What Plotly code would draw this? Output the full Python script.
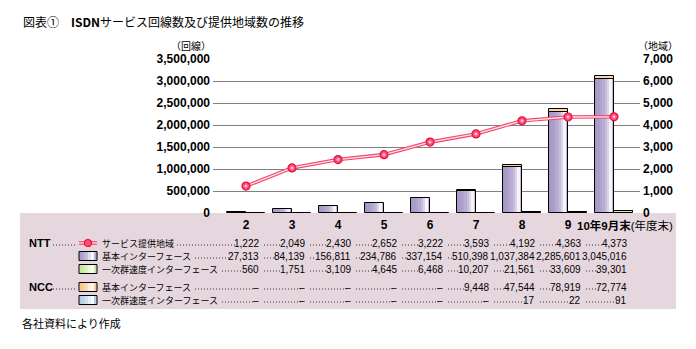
import plotly.graph_objects as go

# ---------------- data ----------------
categories = ["2", "3", "4", "5", "6", "7", "8", "9", "10年9月末"]
ntt_area = [1222, 2049, 2430, 2652, 3222, 3593, 4192, 4363, 4373]
ntt_basic = [27313, 84139, 156811, 234786, 337154, 510398, 1037384, 2285601, 3045016]
ntt_primary = [560, 1751, 3109, 4645, 6468, 10207, 21561, 33609, 39301]
ncc_basic = [None, None, None, None, None, 9448, 47544, 78919, 72774]
ncc_primary = [None, None, None, None, None, None, 17, 22, 91]

left_ticks = [0, 500000, 1000000, 1500000, 2000000, 2500000, 3000000, 3500000]
right_ticks = [0, 1000, 2000, 3000, 4000, 5000, 6000, 7000]

# ---------------- layout geometry ----------------
W, H = 696, 349
L, R, T, B = 213, 640, 59, 213          # plot area in px
PW, PH = R - L, B - T
PINK = "#e6d7df"
C0, STEP = 246, 46                      # first category centre / spacing in px


def X(px):
    return (px - L) / PW


def Y(py):
    return (B - py) / PH


xs = list(range(len(categories)))
BW = 0.413
JP = "Noto Sans CJK JP"
NUM = "Liberation Sans, Arial, " + JP

fig = go.Figure()

# main bar gradient (NTT basic)
purple_strips = ['#a598c7', '#aa9dca', '#b0a4ce', '#b8add4', '#c6bddc', '#dbd5ea', '#f6f4fa', '#c4bad9']
n = len(purple_strips)
for k, c in enumerate(purple_strips):
    fig.add_trace(go.Bar(x=xs, y=ntt_basic, base=0, offset=-BW + k * BW / n, width=BW / n,
                         marker=dict(color=c, line=dict(width=0)), showlegend=False,
                         hoverinfo="skip"))
fig.add_trace(go.Bar(x=xs, y=ntt_basic, base=0, offset=-BW, width=BW,
                     marker=dict(color="rgba(0,0,0,0)", line=dict(color="black", width=1)),
                     showlegend=False, name="NTT 基本インターフェース"))
fig.add_trace(go.Bar(x=xs, y=ncc_basic, base=ntt_basic, offset=-BW, width=BW,
                     marker=dict(color="#fad7a6", line=dict(color="black", width=1)),
                     showlegend=False, name="NCC 基本インターフェース"))
fig.add_trace(go.Bar(x=xs, y=ntt_primary, base=0, offset=0, width=BW,
                     marker=dict(color="#d6ecb8", line=dict(color="black", width=1)),
                     showlegend=False, name="NTT 一次群速度インターフェース"))
fig.add_trace(go.Bar(x=xs, y=ncc_primary, base=ntt_primary, offset=0, width=BW,
                     marker=dict(color="#c4d8ec", line=dict(color="black", width=1)),
                     showlegend=False, name="NCC 一次群速度インターフェース"))

# service area line (double red line)
fig.add_trace(go.Scatter(x=xs, y=ntt_area, yaxis="y2", mode="lines",
                         line=dict(color="#f2456f", width=3.6), showlegend=False, hoverinfo="skip"))
fig.add_trace(go.Scatter(x=xs, y=ntt_area, yaxis="y2", mode="lines",
                         line=dict(color="#ffe4ea", width=1.3), showlegend=False, hoverinfo="skip"))
fig.add_trace(go.Scatter(x=xs, y=ntt_area, yaxis="y2", mode="markers",
                         marker=dict(size=8, color="#ff4d78", line=dict(color="#e8103f", width=1.2)),
                         showlegend=False, name="サービス提供地域"))
fig.add_trace(go.Scatter(x=xs, y=ntt_area, yaxis="y2", mode="markers",
                         marker=dict(size=3, color="#ffc4d2"), showlegend=False, hoverinfo="skip"))

shapes = []
annotations = []

# pink table background
shapes.append(dict(type="rect", xref="paper", yref="paper", x0=X(20), x1=X(676), y0=Y(309), y1=Y(213),
                   fillcolor=PINK, line=dict(width=0), layer="below"))

# title, footer, axis unit labels
annotations.append(dict(text="図表①　<b>ISDN</b>サービス回線数及び提供地域数の推移", xref="paper", yref="paper",
                        x=X(21), y=Y(21), xanchor="left", yanchor="middle", showarrow=False,
                        font=dict(family=JP, size=12, color="black")))
annotations.append(dict(text="各社資料により作成", xref="paper", yref="paper",
                        x=X(20), y=Y(323), xanchor="left", yanchor="middle", showarrow=False,
                        font=dict(family=JP, size=11, color="black")))
annotations.append(dict(text="（回線）", xref="paper", yref="paper",
                        x=X(213), y=Y(46), xanchor="right", yanchor="middle", showarrow=False,
                        font=dict(family=JP, size=10, color="black")))
annotations.append(dict(text="（地域）", xref="paper", yref="paper",
                        x=X(636), y=Y(45), xanchor="left", yanchor="middle", showarrow=False,
                        font=dict(family=JP, size=10, color="black")))
annotations.append(dict(text="<b>10年9月末</b>(年度末)", xref="paper", yref="paper",
                        x=X(675), y=Y(225), xanchor="right", yanchor="middle", showarrow=False,
                        font=dict(family=NUM, size=11.5, color="black")))

# ---------------- table ----------------
row_y = [243, 256, 269, 287, 300]
row_labels = ["サービス提供地域", "基本インターフェース", "一次群速度インターフェース",
              "基本インターフェース", "一次群速度インターフェース"]
row_data = [ntt_area, ntt_basic, ntt_primary, ncc_basic, ncc_primary]
DOT = "1px,2px"
LBL_SIZE = 9
NUM_SIZE = 10


def num_width(txt, size=NUM_SIZE):
    w = 0.0
    for ch in txt:
        w += 0.278 if ch in ",." else 0.556
    return w * size


def leader(x0, x1, py):
    if x1 - x0 > 2:
        shapes.append(dict(type="line", xref="paper", yref="paper", x0=X(x0), x1=X(x1),
                           y0=Y(py + 2), y1=Y(py + 2),
                           line=dict(color="#333333", width=1, dash=DOT)))


for name, py in (("NTT", 243), ("NCC", 287)):
    annotations.append(dict(text="<b>%s</b>" % name, xref="paper", yref="paper", x=X(27), y=Y(py),
                            xanchor="left", yanchor="middle", showarrow=False,
                            font=dict(family=NUM, size=11, color="black")))
    leader(53, 76, py)


def grad_box(py, colors):
    x0, x1 = 79, 97
    m = len(colors)
    for k, c in enumerate(colors):
        shapes.append(dict(type="rect", xref="paper", yref="paper",
                           x0=X(x0 + (x1 - x0) * k / m), x1=X(x0 + (x1 - x0) * (k + 1) / m),
                           y0=Y(py + 4.5), y1=Y(py - 4.5), fillcolor=c, line=dict(width=0)))
    shapes.append(dict(type="rect", xref="paper", yref="paper", x0=X(x0), x1=X(x1),
                       y0=Y(py + 4.5), y1=Y(py - 4.5), line=dict(color="black", width=1)))


# legend icons
shapes.append(dict(type="line", xref="paper", yref="paper", x0=X(79), x1=X(97), y0=Y(243), y1=Y(243),
                   line=dict(color="#f2456f", width=3.6)))
shapes.append(dict(type="line", xref="paper", yref="paper", x0=X(79), x1=X(97), y0=Y(243), y1=Y(243),
                   line=dict(color="#ffe4ea", width=1.3)))
shapes.append(dict(type="circle", xref="paper", yref="paper", x0=X(84.5), x1=X(91.5), y0=Y(246.5), y1=Y(239.5),
                   fillcolor="#ff4d78", line=dict(color="#e8103f", width=1.2)))
grad_box(row_y[1], ['#a99cc9', '#b4a9d1', '#c5bcdc', '#e2ddee', '#f8f7fc', '#b9aed6'])
grad_box(row_y[2], ['#c6e89c', '#cfeca9', '#dcf1c2', '#eef8e1', '#fbfdf7', '#cde6b0'])
grad_box(row_y[3], ['#f8c88a', '#f9d09b', '#fadbb4', '#fcebd6', '#fefaf4', '#f3cc9a'])
grad_box(row_y[4], ['#b4cde6', '#bfd5ea', '#d0e0f0', '#e5eff8', '#f8fbfe', '#b8cee4'])

for label, data, py in zip(row_labels, row_data, row_y):
    annotations.append(dict(text=label, xref="paper", yref="paper", x=X(100), y=Y(py),
                            xanchor="left", yanchor="middle", showarrow=False,
                            font=dict(family=JP, size=LBL_SIZE, color="black")))
    prev_end = 100 + len(label) * LBL_SIZE + 2
    for i, v in enumerate(data):
        txt = "–" if v is None else "{:,}".format(v)
        right = C0 + STEP * i + 15
        leader(prev_end + 3, right - num_width(txt) - 1, py)
        prev_end = right
        annotations.append(dict(text=txt, xref="x", yref="paper", x=i, xshift=15, y=Y(py),
                                xanchor="right", yanchor="middle", showarrow=False,
                                font=dict(family=NUM, size=NUM_SIZE, color="black")))

fig.update_layout(
    width=W, height=H,
    margin=dict(l=L, r=W - R, t=T, b=H - B, pad=0),
    paper_bgcolor="white", plot_bgcolor="white",
    barmode="overlay", bargap=0,
    shapes=shapes, annotations=annotations,
    showlegend=False,
    xaxis=dict(range=[(L - C0) / STEP, (R - C0) / STEP], tickmode="array", tickvals=xs[:-1],
               ticktext=categories[:-1], showgrid=False, zeroline=False, showline=False,
               ticks="", ticklabelstandoff=3,
               tickfont=dict(family=NUM, size=12, color="black", weight="bold")),
    yaxis=dict(range=[0, 3500000], tickmode="array", tickvals=left_ticks, tickformat=",d",
               showgrid=True, gridcolor="#808080", gridwidth=1, zeroline=False, showline=False,
               ticks="", ticklabelstandoff=2,
               tickfont=dict(family=NUM, size=12, color="black", weight="bold")),
    yaxis2=dict(range=[0, 7000], overlaying="y", side="right", tickmode="array", tickvals=right_ticks,
                tickformat=",d", showgrid=False, zeroline=False, showline=False, ticks="",
                ticklabelstandoff=2,
                tickfont=dict(family=NUM, size=12, color="black", weight="bold")),
)

fig.write_html("out.html")
